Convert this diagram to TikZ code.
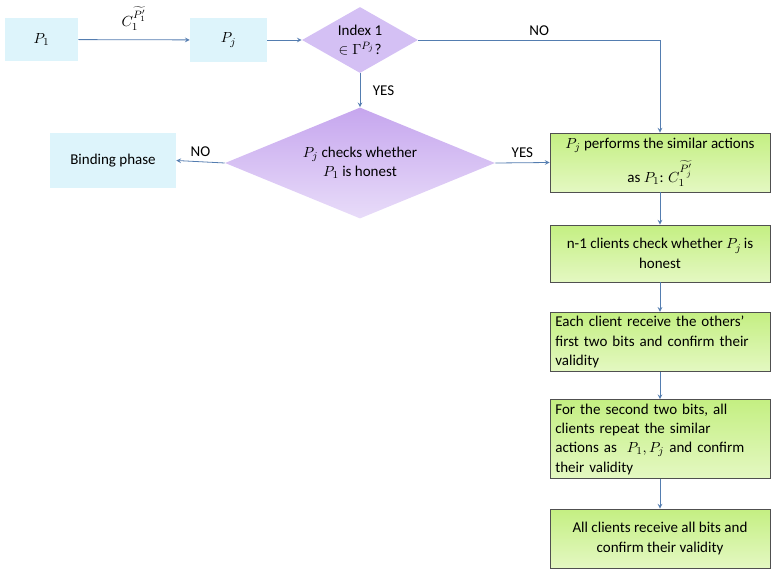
\documentclass[tikz,border=0pt]{standalone}
\usepackage{amsmath}
\usepackage{fontspec}
\setmainfont{Carlito}
\usetikzlibrary{shapes.geometric, arrows}
\definecolor{partyblue}{RGB}{221,244,251}
\definecolor{linkblue}{RGB}{84,125,176}
\definecolor{lilac}{RGB}{212,192,244}
\definecolor{lilactop}{RGB}{198,166,238}
\definecolor{lilacbot}{RGB}{232,220,249}
\definecolor{greentop}{RGB}{196,239,130}
\definecolor{greenbot}{RGB}{228,248,194}
\definecolor{boxgray}{RGB}{80,80,80}
\tikzstyle{party} = [rectangle, fill=partyblue, inner sep=2pt, align=center]
\tikzstyle{decision} = [diamond, inner sep=0pt, align=center]
\tikzstyle{process} = [rectangle, draw=boxgray, line width=0.6pt, top color=greentop, bottom color=greenbot, minimum width=165pt, inner sep=3pt, align=center]
\tikzstyle{leftproc} = [process, inner xsep=4pt, text width=157pt, align=left]
\tikzstyle{arrow} = [line width=0.6pt, draw=linkblue, ->, >=stealth]

\begin{document}
\begin{tikzpicture}[x=0.75pt, y=-0.75pt, font=\fontsize{11.25}{14.5}\selectfont]
	\useasboundingbox (0,0) rectangle (775,578);
	% top row
	\node[party, minimum width=54.75pt, minimum height=32.25pt] (p1) at (41.5,39.5) {$P_1$};
	\node[party, minimum width=57.75pt, minimum height=33pt] (pj) at (228.5,40) {$P_j$};
	\node[decision, aspect=1.76, fill=lilac, minimum width=87pt, minimum height=49.5pt] (idx) at (360,40) {Index 1\\$\in\Gamma^{P_j}$?};
	% second row
	\node[decision, aspect=2.43, top color=lilactop, bottom color=lilacbot, minimum width=202.5pt, minimum height=83.25pt] (chk) at (360,163) {$P_j$ checks whether\\$P_1$ is honest};
	\node[party, minimum width=94.5pt, minimum height=41.25pt] (bind) at (113,160.5) {Binding phase};
	% right column
	\node[process, minimum height=44.25pt] (act) at (660,162.5) {$P_j$ performs the similar actions\\[5pt]as $P_1$: $C_1^{\widetilde{P_j'}}$};
	\node[process, minimum height=42.75pt] (honest) at (660,253.5) {n-1 clients check whether $P_j\,$is\\honest};
	\node[leftproc, minimum height=43.5pt] (first) at (660,342) {Each client receive the others'\\first two bits and confirm their\\validity};
	\node[leftproc, minimum height=55.5pt] (second) at (660,439) {For the second two bits, all\\clients repeat the similar\\actions as\ \ $P_1, P_j$ and confirm\\their validity};
	\node[process, minimum height=44.25pt] (final) at (660,538.5) {All clients receive all bits and\\confirm their validity};

	\draw[arrow] (p1) -- node[above, yshift=3pt] {$C_1^{\widetilde{P_1'}}$} (pj);
	\draw[arrow] (pj) -- (idx);
	\draw[arrow] (idx.east) -| node[pos=0.25, above] {NO} (act.north);
	\draw[arrow] (idx.south) -- node[right=6pt] {YES} (chk.north);
	\draw[arrow] (chk.west) -- node[above] {NO} (bind.east);
	\draw[arrow] (chk.east) -- node[above] {YES} (act.west);
	\draw[arrow] (act) -- (honest);
	\draw[arrow] (honest) -- (first);
	\draw[arrow] (first) -- (second);
	\draw[arrow] (second) -- (final);
\end{tikzpicture}
\end{document}
